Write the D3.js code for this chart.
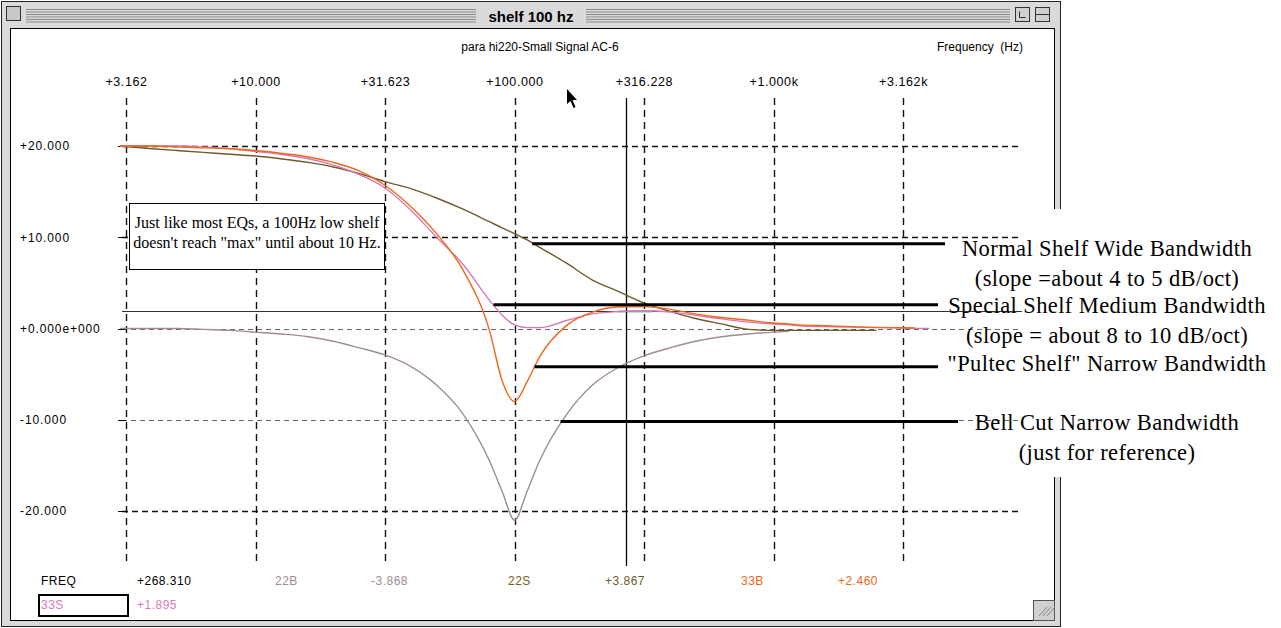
<!DOCTYPE html>
<html>
<head>
<meta charset="utf-8">
<script src="https://cdn.jsdelivr.net/npm/d3@7"></script>
<style>
  body { margin: 0; background: #fff; }
  svg { display: block; }
  .mac { font-family: "Liberation Sans", Arial, sans-serif; font-size: 12px; }
  .note { font-family: "Liberation Serif", "Times New Roman", serif; }
</style>
</head>
<body>
<svg id="chart"></svg>
<script>
// frequency points (Hz) the curves were read at
const freqs = [3, 4, 5, 6.3, 8, 10, 12.5, 16, 20, 25, 31.6, 40, 50, 63, 80, 90, 100, 112, 125, 160, 200, 250, 316, 400, 500, 630, 800, 1000, 1150, 1250, 1600, 2000, 2500, 3160, 3500, 4000];

// gain in dB, null = not drawn
const bell22B   = [0, 0, 0, -0.1, -0.2, -0.4, -0.6, -0.9, -1.4, -2.1, -2.9, -4.2, -6.2, -9.3, -14.5, -18.0, -21.0, -17.8, -14.5, -9.3, -6.2, -4.3, -3.0, -2.1, -1.4, -0.9, -0.6, -0.4, -0.3, null, null, null, null, null, null, null];
const shelf22S  = [20.0, 19.7, 19.5, 19.3, 19.1, 18.9, 18.6, 18.2, 17.7, 17.0, 16.1, 15.3, 14.3, 13.1, 11.7, 11.0, 10.4, 9.7, 8.9, 7.1, 5.3, 4.1, 2.8, 1.85, 1.1, 0.5, -0.1, -0.2, -0.2, -0.2, -0.2, -0.2, -0.2, null, null, null];
const pultec33B = [20.0, 20.0, 19.9, 19.8, 19.7, 19.5, 19.2, 18.8, 18.2, 17.3, 15.7, 13.3, 10.4, 6.5, -0.2, -5.9, -8.0, -5.8, -3.1, 0.4, 1.8, 2.35, 2.4, 2.1, 1.6, 1.2, 0.9, 0.6, 0.5, 0.4, 0.3, 0.2, 0.12, 0.08, 0.05, null];
const shelf33S  = [20.0, 20.0, 20.0, 19.9, 19.7, 19.4, 19.1, 18.6, 17.9, 16.9, 15.4, 12.9, 10.0, 7.1, 3.1, 1.4, 0.4, 0.1, 0.1, 0.9, 1.6, 1.85, 1.95, 1.8, 1.45, 1.05, 0.7, 0.5, 0.4, 0.3, 0.2, 0.15, 0.1, 0.05, 0.02, 0.0];

const freqTicks = [3.162, 10, 31.623, 100, 316.228, 1000, 3162];
const freqTickLabels = ["+3.162", "+10.000", "+31.623", "+100.000", "+316.228", "+1.000k", "+3.162k"];
const dbTicks = [20, 10, 0, -10, -20];
const dbTickLabels = ["+20.000", "+10.000", "+0.000e+000", "-10.000", "-20.000"];

const cursorFreq = 268.31;
const cursorDb = 1.895;

const readoutNames  = ["FREQ", "+268.310", "22B", "-3.868", "22S", "+3.867", "33B", "+2.460"];
const readoutNames2 = ["33S", "+1.895"];

const noteLines = [
  ["Normal Shelf Wide Bandwidth", "(slope =about 4 to 5 dB/oct)"],
  ["Special Shelf Medium Bandwidth", "(slope = about 8 to 10 dB/oct)"],
  ["\"Pultec Shelf\" Narrow Bandwidth"],
  ["Bell Cut Narrow Bandwidth", "(just for reference)"]
];
// where each leader line touches its curve
const noteFreqs = [117, 83, 119.5, 150.5];
const noteDbs = [9.3, 2.6, -4.2, -10.2];

const colors = {
  bell: "#a08c96",
  wide: "#6e5a2a",
  pultec: "#f0661a",
  medium: "#d878b8"
};

const W = 1281, H = 628;

const svg = d3.select("#chart")
  .attr("width", W)
  .attr("height", H);

svg.append("rect").attr("width", W).attr("height", H).attr("fill", "#fff");

// WINDOW CHROME

svg.append("rect")
  .attr("x", 1.5).attr("y", 1.5)
  .attr("width", 1059).attr("height", 625)
  .attr("fill", "#dadada")
  .attr("stroke", "#222");

d3.range(6).forEach(i => {
  svg.append("line")
    .attr("x1", 26).attr("x2", 1010)
    .attr("y1", 9.5 + i * 2.5).attr("y2", 9.5 + i * 2.5)
    .attr("stroke", "#8a8a8a");
});

svg.append("rect")
  .attr("x", 6.5).attr("y", 6.5).attr("width", 14).attr("height", 14)
  .attr("fill", "#c8c8c8").attr("stroke", "#333");

[1015.5, 1035.5].forEach(bx => {
  svg.append("rect")
    .attr("x", bx).attr("y", 7.5).attr("width", 14).attr("height", 14)
    .attr("fill", "#d0d0d0").attr("stroke", "#333");
});
svg.append("path").attr("d", "M1019.5,11.5 V17.5 H1025.5").attr("fill", "none").attr("stroke", "#333");
svg.append("line").attr("x1", 1036).attr("x2", 1049).attr("y1", 14.5).attr("y2", 14.5).attr("stroke", "#333");

svg.append("rect")
  .attr("x", 476).attr("y", 6).attr("width", 110).attr("height", 20)
  .attr("fill", "#dadada");
svg.append("text")
  .attr("x", 531).attr("y", 22)
  .attr("text-anchor", "middle")
  .attr("font-family", "'Liberation Sans', Arial, sans-serif")
  .attr("font-weight", "bold")
  .attr("font-size", 15)
  .text("shelf 100 hz");

svg.append("rect")
  .attr("x", 10.5).attr("y", 28.5)
  .attr("width", 1044).attr("height", 592)
  .attr("fill", "#fff")
  .attr("stroke", "#000");

// resize grip
svg.append("rect")
  .attr("x", 1033.5).attr("y", 600.5).attr("width", 21).attr("height", 20)
  .attr("fill", "#d0d0d0").attr("stroke", "#555");
[0, 4, 8].forEach(k => {
  svg.append("line")
    .attr("x1", 1039 + k).attr("y1", 616)
    .attr("x2", 1047 + k).attr("y2", 607)
    .attr("stroke", "#888");
});

// SCALES

const x = d3.scaleLog()
  .domain([3.162, 3162])
  .range([126, 903]);

const y = d3.scaleLinear()
  .domain([-20, 20])
  .range([511, 146]);

const plotLeft = 122, plotRight = 1022, plotTop = 98, plotBottom = 566;

// header texts
svg.append("text").attr("class", "mac")
  .attr("x", 540).attr("y", 51)
  .attr("text-anchor", "middle")
  .text("para hi220-Small Signal AC-6");
svg.append("text").attr("class", "mac")
  .attr("x", 937).attr("y", 51)
  .attr("xml:space", "preserve")
  .text("Frequency  (Hz)");

// top axis labels
const xAxis = d3.axisTop(x)
  .tickValues(freqTicks)
  .tickFormat((d, i) => freqTickLabels[i])
  .tickSize(0)
  .tickPadding(0);

const gx = svg.append("g")
  .attr("class", "x axis")
  .attr("transform", "translate(0,86)")
  .call(xAxis);
gx.select(".domain").remove();
gx.selectAll("text")
  .attr("font-family", "'Liberation Sans', Arial, sans-serif")
  .attr("font-size", 12.5)
  .attr("letter-spacing", "0.6px")
  .attr("fill", "#000");

// left axis labels
const yAxis = d3.axisLeft(y)
  .tickValues(dbTicks)
  .tickFormat((d, i) => dbTickLabels[i])
  .tickSize(0);

const gy = svg.append("g")
  .attr("class", "y axis")
  .attr("transform", "translate(20,0)")
  .call(yAxis);
gy.select(".domain").remove();
gy.selectAll("text")
  .attr("text-anchor", "start")
  .attr("x", 0)
  .attr("font-family", "'Liberation Sans', Arial, sans-serif")
  .attr("font-size", 12)
  .attr("letter-spacing", "0.9px")
  .attr("fill", "#000");

// GRID

svg.append("g").selectAll("line")
  .data(dbTicks)
  .enter()
  .append("line")
  .attr("x1", plotLeft).attr("x2", plotRight)
  .attr("y1", d => Math.round(y(d)) + 0.5)
  .attr("y2", d => Math.round(y(d)) + 0.5)
  .attr("stroke", d => (d === 0 || d === -10) ? "#666" : "#111")
  .attr("stroke-width", d => (d === 0 || d === -10) ? 1 : 1.6)
  .attr("stroke-dasharray", d => (d === 0 || d === -10) ? "5,4" : "6,4");

// small ticks on the left
svg.append("g").selectAll("line")
  .data(dbTicks)
  .enter()
  .append("line")
  .attr("x1", 118).attr("x2", 126)
  .attr("y1", d => Math.round(y(d)) + 0.5)
  .attr("y2", d => Math.round(y(d)) + 0.5)
  .attr("stroke", "#000");

svg.append("g").selectAll("line")
  .data(freqTicks)
  .enter()
  .append("line")
  .attr("x1", d => Math.round(x(d)) + 0.5)
  .attr("x2", d => Math.round(x(d)) + 0.5)
  .attr("y1", plotTop).attr("y2", plotBottom)
  .attr("stroke", "#111")
  .attr("stroke-width", 1.4)
  .attr("stroke-dasharray", "7,5");

// CURSORS

svg.append("line")
  .attr("x1", plotLeft).attr("x2", plotRight)
  .attr("y1", Math.round(y(cursorDb)) + 0.5)
  .attr("y2", Math.round(y(cursorDb)) + 0.5)
  .attr("stroke", "#333")
  .attr("stroke-width", 1.2);

svg.append("line")
  .attr("x1", x(250)).attr("x2", x(340))
  .attr("y1", Math.round(y(cursorDb)) + 0.5)
  .attr("y2", Math.round(y(cursorDb)) + 0.5)
  .attr("stroke", "#6cc09a")
  .attr("stroke-width", 2);

svg.append("line")
  .attr("x1", Math.round(x(cursorFreq)) + 0.5)
  .attr("x2", Math.round(x(cursorFreq)) + 0.5)
  .attr("y1", plotTop).attr("y2", plotBottom)
  .attr("stroke", "#000")
  .attr("stroke-width", 1.3);

// CURVES

const series = [
  { name: "22B", values: bell22B, color: colors.bell },
  { name: "22S", values: shelf22S, color: colors.wide },
  { name: "33S", values: shelf33S, color: colors.medium },
  { name: "33B", values: pultec33B, color: colors.pultec }
];

const line = d3.line()
  .defined(d => d.db !== null)
  .x(d => x(d.f))
  .y(d => y(d.db))
  .curve(d3.curveMonotoneX);

svg.append("g").selectAll("path")
  .data(series)
  .enter()
  .append("path")
  .attr("class", "line")
  .attr("fill", "none")
  .attr("stroke", d => d.color)
  .attr("stroke-width", 1.4)
  .attr("d", d => line(freqs.map((f, i) => ({ f: f, db: d.values[i] }))));

// NOTE BOX

svg.append("rect")
  .attr("x", 129.5).attr("y", 203.5)
  .attr("width", 255).attr("height", 66)
  .attr("fill", "#fff")
  .attr("stroke", "#000");

svg.append("text").attr("class", "note")
  .attr("x", 257).attr("y", 228)
  .attr("text-anchor", "middle")
  .attr("font-size", 16)
  .text("Just like most EQs, a 100Hz low shelf");
svg.append("text").attr("class", "note")
  .attr("x", 257).attr("y", 248)
  .attr("text-anchor", "middle")
  .attr("font-size", 16)
  .text("doesn't reach \"max\" until about 10 Hz.");

// RIGHT ANNOTATIONS

svg.append("rect")
  .attr("x", 1030).attr("y", 209)
  .attr("width", 251).attr("height", 268)
  .attr("fill", "#fff");

const leaderEnds = [945, 938, 938, 958];
const noteBaselines = [256, 313, 371, 430];

noteLines.forEach((lines, k) => {
  svg.append("line")
    .attr("x1", x(noteFreqs[k])).attr("x2", leaderEnds[k])
    .attr("y1", y(noteDbs[k])).attr("y2", y(noteDbs[k]))
    .attr("stroke", "#000")
    .attr("stroke-width", 3);

  lines.forEach((t, j) => {
    svg.append("text").attr("class", "note")
      .attr("x", 1107)
      .attr("y", noteBaselines[k] + j * 29.5)
      .attr("text-anchor", "middle")
      .attr("font-size", 22.5)
      .attr("letter-spacing", "0.4px")
      .text(t);
  });
});

// READOUTS

const readoutX = [41, 137, 275, 371, 508, 605, 741, 838];
const readoutColors = ["#000", "#000", colors.bell, colors.bell, "#7a5c1e", "#6e5a2a", colors.pultec, colors.pultec];

svg.append("g").selectAll("text")
  .data(readoutNames)
  .enter()
  .append("text")
  .attr("class", "mac")
  .attr("x", (d, i) => readoutX[i])
  .attr("y", 585)
  .attr("letter-spacing", "0.5px")
  .attr("fill", (d, i) => readoutColors[i])
  .text(d => d);

svg.append("rect")
  .attr("x", 39).attr("y", 595)
  .attr("width", 89).attr("height", 21)
  .attr("fill", "none")
  .attr("stroke", "#000")
  .attr("stroke-width", 2);

svg.append("g").selectAll("text")
  .data(readoutNames2)
  .enter()
  .append("text")
  .attr("class", "mac")
  .attr("x", (d, i) => i === 0 ? 41 : 137)
  .attr("y", 609)
  .attr("letter-spacing", "0.5px")
  .attr("fill", colors.medium)
  .text(d => d);

// mouse pointer
svg.append("path")
  .attr("d", "M567,89 L567,104 L570.5,101 L573.5,108 L575.5,107 L572.5,100 L577,100 Z")
  .attr("fill", "#000");
</script>
</body>
</html>
